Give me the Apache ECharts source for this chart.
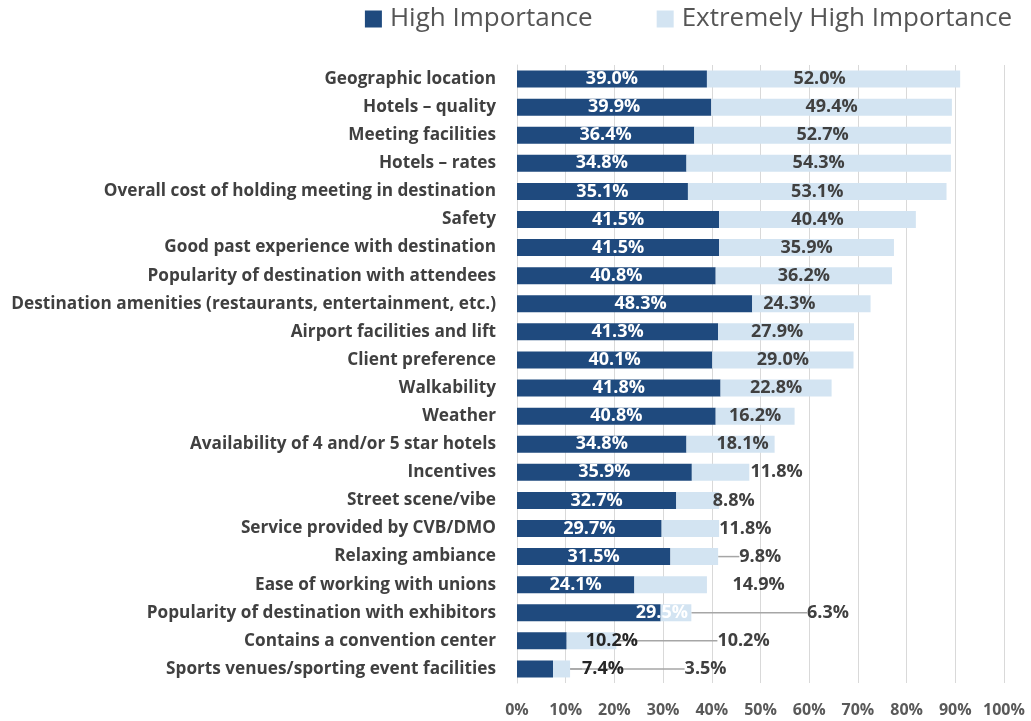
<!DOCTYPE html>
<html>
<head>
<meta charset="utf-8">
<script src="https://cdn.jsdelivr.net/npm/echarts@6/dist/echarts.min.js"></script>
<style>
  html, body { margin: 0; padding: 0; background: #ffffff; }
  #chart { width: 1031px; height: 721px; }
</style>
</head>
<body>
<div id="chart"></div>
<script>
// Destination selection factors, top to bottom
const categories = [
  'Geographic location',
  'Hotels \u2013 quality',
  'Meeting facilities',
  'Hotels \u2013 rates',
  'Overall cost of holding meeting in destination',
  'Safety',
  'Good past experience with destination',
  'Popularity of destination with attendees',
  'Destination amenities (restaurants, entertainment, etc.)',
  'Airport facilities and lift',
  'Client preference',
  'Walkability',
  'Weather',
  'Availability of 4 and/or 5 star hotels',
  'Incentives',
  'Street scene/vibe',
  'Service provided by CVB/DMO',
  'Relaxing ambiance',
  'Ease of working with unions',
  'Popularity of destination with exhibitors',
  'Contains a convention center',
  'Sports venues/sporting event facilities'
];

const highImportance = [
  39.0, 39.9, 36.4, 34.8, 35.1, 41.5, 41.5, 40.8, 48.3, 41.3, 40.1,
  41.8, 40.8, 34.8, 35.9, 32.7, 29.7, 31.5, 24.1, 29.5, 10.2, 7.4
];

const extremelyHighImportance = [
  52.0, 49.4, 52.7, 54.3, 53.1, 40.4, 35.9, 36.2, 24.3, 27.9, 29.0,
  22.8, 16.2, 18.1, 11.8, 8.8, 11.8, 9.8, 14.9, 6.3, 10.2, 3.5
];

const seriesNames = ['High Importance', 'Extremely High Importance'];

// Label placement: horizontal nudges (px) for labels that sit off their segment
const extremeLabelNudge = { 0: -14, 8: -22, 9: -9, 13: 12, 14: 56, 15: 36, 16: 55, 17: 66, 18: 88, 19: 152, 20: 152, 21: 144 };
const highLabelNudge = { 8: 6, 19: 73, 20: 70, 21: 68 };
const extremeGuideRows = [17, 19, 20, 21];
const highGuideRows = [20, 21];
const highDarkTextRows = [20, 21];

const FONT = '"Open Sans"';
const DARK = '#1F4A7E';
const LIGHT = '#D3E4F2';
const GUIDE = { show: true, lineStyle: { color: '#A6A6A6', width: 1.5 } };

const pct = p => Number(p.value).toFixed(1) + '%';

const chart = echarts.init(document.getElementById('chart'), null, { renderer: 'canvas' });

chart.setOption({
  animation: false,
  backgroundColor: '#ffffff',
  legend: {
    top: 1,
    right: 14,
    icon: 'rect',
    itemWidth: 17,
    itemHeight: 17,
    itemGap: 64,
    textStyle: { fontFamily: FONT, fontSize: 26, color: '#555555', padding: [0, 0, 0, 3] },
    data: seriesNames
  },
  grid: { left: 517, right: 27, top: 65, bottom: 38, containLabel: false },
  xAxis: {
    type: 'value',
    min: 0,
    max: 100,
    interval: 10,
    axisLine: { show: false },
    axisTick: { show: false },
    splitLine: { lineStyle: { color: '#D9D9D9', width: 1 } },
    axisLabel: {
      formatter: '{value}%',
      fontFamily: FONT,
      fontWeight: 'bold',
      fontSize: 16,
      color: '#595959',
      margin: 19
    }
  },
  yAxis: {
    type: 'category',
    inverse: true,
    data: categories,
    axisLine: { lineStyle: { color: '#D9D9D9', width: 1 } },
    axisTick: { show: false },
    axisLabel: {
      fontFamily: FONT,
      fontWeight: 'bold',
      fontSize: 17.2,
      color: '#404040',
      margin: 21
    }
  },
  series: [
    {
      name: seriesNames[0],
      type: 'bar',
      stack: 'total',
      barWidth: 17,
      itemStyle: { color: DARK },
      label: {
        show: true,
        position: 'inside',
        formatter: pct,
        fontFamily: FONT,
        fontWeight: 'bold',
        fontSize: 18,
        color: '#ffffff',
        textBorderWidth: 0
      },
      labelLayout: p => ({ dx: highLabelNudge[p.dataIndex] || 0 }),
      data: highImportance.map((v, i) => ({
        value: v,
        label: highDarkTextRows.includes(i) ? { color: '#262626' } : undefined,
        labelLine: highGuideRows.includes(i) ? GUIDE : { show: false }
      }))
    },
    {
      name: seriesNames[1],
      type: 'bar',
      stack: 'total',
      barWidth: 17,
      itemStyle: { color: LIGHT },
      label: {
        show: true,
        position: 'inside',
        formatter: pct,
        fontFamily: FONT,
        fontWeight: 'bold',
        fontSize: 18,
        color: '#404040',
        textBorderWidth: 0
      },
      labelLayout: p => ({ dx: extremeLabelNudge[p.dataIndex] || 0 }),
      data: extremelyHighImportance.map((v, i) => ({
        value: v,
        labelLine: extremeGuideRows.includes(i) ? GUIDE : { show: false }
      }))
    }
  ]
});
</script>
</body>
</html>
